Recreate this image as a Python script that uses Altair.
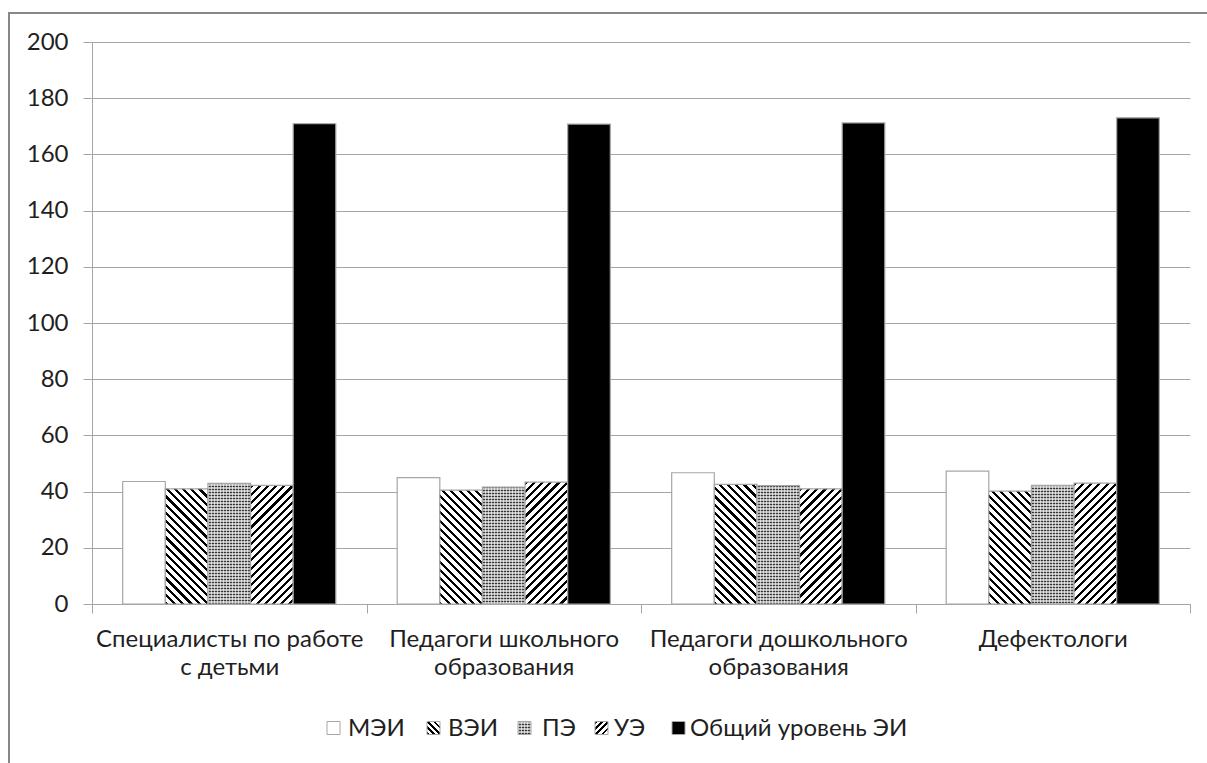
import math
import altair as alt
import pandas as pd

# --- data -------------------------------------------------------------
GROUPS = [
    "Специалисты по работе\nс детьми",
    "Педагоги школьного\nобразования",
    "Педагоги дошкольного\nобразования",
    "Дефектологи",
]
SERIES = ["МЭИ", "ВЭИ", "ПЭ", "УЭ", "Общий уровень ЭИ"]
MEI = [43.6, 45.0, 46.7, 47.3]
VEI = [41.0, 40.5, 42.6, 40.2]
PE = [42.9, 41.6, 42.1, 42.2]
UE = [42.2, 43.4, 41.0, 43.0]
TOTAL = [170.9, 170.8, 171.2, 173.0]
Y_TICKS = list(range(0, 201, 20))

VALUES = dict(zip(SERIES, [MEI, VEI, PE, UE, TOTAL]))
df = pd.DataFrame(
    [{"group": g, "series": s, "value": VALUES[s][i]}
     for s in SERIES for i, g in enumerate(GROUPS)]
)

# --- layout / style ---------------------------------------------------
PLOT_W, PLOT_H = 1098, 562
Y_MAX = 200
OUTER_PAD = 0.72
FONT = "Lato"
FS = 24
TEXT = "#1f1f1f"
GRID = "#a6a6a6"
EDGE = "#a6a6a6"
BAR_W = PLOT_W / len(GROUPS) / (len(SERIES) + 2 * OUTER_PAD)
PX_PER_UNIT = PLOT_H / Y_MAX


def band_stops(n, frac, dark, light):
    stops, k = [], 0
    while k / n < 1:
        a, b, c = k / n, min((k + frac) / n, 1), min((k + 1) / n, 1)
        stops += [
            {"color": dark, "offset": a}, {"color": dark, "offset": b},
            {"color": light, "offset": b}, {"color": light, "offset": c},
        ]
        k += 1
    return stops


def diagonal(w, h, forward, period=5.8, frac=0.38):
    """45-degree stripes inside a w x h box ('/' if forward else '\\')."""
    s = (w + h) / (w * w + h * h)
    if forward:
        p1, g = (0, 0), (w, h)
    else:
        p1, g = (0, 1), (w, -h)
    n = (w + h) / math.sqrt(2) / period
    return {
        "gradient": "linear",
        "x1": p1[0], "y1": p1[1],
        "x2": p1[0] + g[0] * s, "y2": p1[1] + g[1] * s,
        "stops": band_stops(n, frac, "#000000", "#ffffff"),
    }


# fine dotted texture: 1px dark rows every 3px with a light column overlay
def rows(h, period=3.0):
    return {"gradient": "linear", "x1": 0, "y1": 0, "x2": 0, "y2": 1,
            "stops": band_stops(h / period, 1 / 3, "#3a3a3a", "#b8b8b8")}


def cols(w, period=3.0):
    return {"gradient": "linear", "x1": 0, "y1": 0, "x2": 1, "y2": 0,
            "stops": band_stops(w / period, 1 / 3, "rgba(255,255,255,0.6)",
                                "rgba(255,255,255,0)")}


x_axis = alt.Axis(
    title=None, labelExpr="split(datum.label, '\\n')", labelFont=FONT,
    labelFontSize=FS, labelColor=TEXT, labelLineHeight=28, labelPadding=14,
    tickBand="extent", tickSize=9, tickColor=GRID, domainColor=GRID,
    grid=False, labelAngle=0, labelLimit=400,
)
y_axis = alt.Axis(
    title=None, values=Y_TICKS, labelFont=FONT, labelFontSize=FS,
    labelColor=TEXT, labelPadding=15, tickSize=9, tickColor=GRID,
    domainColor=GRID, gridColor=GRID, grid=True,
)

enc = dict(
    x=alt.X("group:N", sort=GROUPS, axis=x_axis,
            scale=alt.Scale(paddingInner=0, paddingOuter=0)),
    xOffset=alt.XOffset("series:N", sort=SERIES,
                        scale=alt.Scale(domain=SERIES, paddingInner=0,
                                        paddingOuter=OUTER_PAD)),
    y=alt.Y("value:Q", axis=y_axis,
            scale=alt.Scale(domain=[0, Y_MAX], nice=False)),
)

base = alt.Chart(df)


def bar(name, fill, group=None, stroke=True):
    kw = dict(stroke=EDGE, strokeWidth=1.2) if stroke else dict(strokeWidth=0)
    c = base.transform_filter(alt.FieldEqualPredicate(field="series", equal=name))
    if group is not None:
        c = c.transform_filter(alt.FieldEqualPredicate(field="group", equal=group))
    return c.mark_bar(fill=fill, **kw).encode(**enc)


# patterned bars get one layer each so the texture fits the bar's own height
bars = [bar("МЭИ", "#ffffff")]
for i, g in enumerate(GROUPS):
    bars.append(bar("ВЭИ", diagonal(BAR_W, VEI[i] * PX_PER_UNIT, False), g))
for i, g in enumerate(GROUPS):
    bars.append(bar("ПЭ", rows(PE[i] * PX_PER_UNIT), g, stroke=False))
bars.append(bar("ПЭ", cols(BAR_W)))
for i, g in enumerate(GROUPS):
    bars.append(bar("УЭ", diagonal(BAR_W, UE[i] * PX_PER_UNIT, True), g))
bars.append(bar("Общий уровень ЭИ", "#000000"))

# outer frame around the whole chart
one = pd.DataFrame({"k": [0]})
frame = alt.Chart(one).mark_rect(
    fillOpacity=0, stroke="#878787", strokeWidth=2
).encode(x=alt.value(-83), x2=alt.value(PLOT_W + 40),
         y=alt.value(-29), y2=alt.value(PLOT_H + 200))

# legend row under the axis labels
SYM = 13
LEG_Y = 686
LEG_SYM_X = [235, 335, 426, 503, 580]
LEG_TXT_X = [256, 356, 450, 522, 598]
sym_fills = [
    ["#ffffff"],
    [diagonal(SYM, SYM, forward=False, period=4.4, frac=0.42)],
    [rows(SYM, period=3.0), cols(SYM, period=3.0)],
    [diagonal(SYM, SYM, forward=True, period=4.4, frac=0.42)],
    ["#000000"],
]
legend = []
for name, sx, tx, fills in zip(SERIES, LEG_SYM_X, LEG_TXT_X, sym_fills):
    for j, f in enumerate(fills):
        last = j == len(fills) - 1
        legend.append(
            alt.Chart(one).mark_rect(
                fill=f, stroke=EDGE if last else "#ffffff",
                strokeWidth=1 if last else 0,
            ).encode(x=alt.value(sx), x2=alt.value(sx + SYM),
                     y=alt.value(LEG_Y - SYM / 2), y2=alt.value(LEG_Y + SYM / 2))
        )
    legend.append(
        alt.Chart(one).mark_text(
            text=name, align="left", baseline="middle", font=FONT,
            fontSize=FS, color=TEXT,
        ).encode(x=alt.value(tx), y=alt.value(LEG_Y + 1))
    )

chart = alt.layer(frame, *bars, *legend).properties(
    width=PLOT_W, height=PLOT_H,
    padding={"left": 92, "top": 42, "right": 17, "bottom": 159},
    autosize=alt.AutoSizeParams(type="none"),
    background="#ffffff",
).configure_view(stroke=None)

chart.save("out.html", embed_options={"renderer": "svg", "actions": False})
